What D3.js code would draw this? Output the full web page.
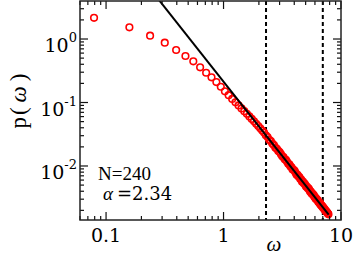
<!DOCTYPE html>
<html>
<head>
<meta charset="utf-8">
<script src="https://cdn.jsdelivr.net/npm/d3@7"></script>
<style>
  body { margin: 0; background: #fff; }
  text { font-family: "Liberation Serif", "DejaVu Serif", serif; fill: #000; }
  .num { font-family: "DejaVu Serif", serif; font-weight: 300; }
</style>
</head>
<body>
<script>
const wid = 354, hei = 258;
const margin = {left: 80, right: 13, top: 1, bottom: 38};

// degree distribution, p(omega)
const omega = [0.079, 0.158, 0.237, 0.316, 0.395, 0.474, 0.553, 0.632, 0.711, 0.790,
  0.869, 0.948, 1.027, 1.106, 1.185, 1.264, 1.343, 1.422, 1.501, 1.580,
  1.659, 1.738, 1.817, 1.896, 1.975, 2.054, 2.133, 2.212, 2.291, 2.370,
  2.449, 2.528, 2.607, 2.686, 2.765, 2.844, 2.923, 3.002, 3.081, 3.160,
  3.239, 3.318, 3.397, 3.476, 3.555, 3.634, 3.713, 3.792, 3.871, 3.950,
  4.029, 4.108, 4.187, 4.266, 4.345, 4.424, 4.503, 4.582, 4.661, 4.740,
  4.819, 4.898, 4.977, 5.056, 5.135, 5.214, 5.293, 5.372, 5.451, 5.530,
  5.609, 5.688, 5.767, 5.846, 5.925, 6.004, 6.083, 6.162, 6.241, 6.320,
  6.399, 6.478, 6.557, 6.636, 6.715, 6.794, 6.873, 6.952, 7.031, 7.110,
  7.189, 7.268, 7.347, 7.426, 7.505, 7.584, 7.663, 7.742, 7.821];
const prob = [2.16, 1.53, 1.13, 0.875, 0.671, 0.54, 0.445, 0.358, 0.294, 0.249,
  0.210, 0.177, 0.150, 0.1303, 0.1139, 0.1007, 0.0898, 0.0808, 0.0730, 0.0663,
  0.0604, 0.0551, 0.0505, 0.0463, 0.0426, 0.0392, 0.0361, 0.0336, 0.0305, 0.0285,
  0.0259, 0.0246, 0.0225, 0.0213, 0.0194, 0.0187, 0.01726, 0.0166, 0.01533, 0.01422,
  0.01379, 0.01277, 0.01248, 0.01161, 0.01082, 0.01058, 0.00984, 0.00952, 0.00882, 0.00869,
  0.00841, 0.00782, 0.00731, 0.00723, 0.00683, 0.00671, 0.00624, 0.00610, 0.00566, 0.00567,
  0.00535, 0.00530, 0.00499, 0.00472, 0.00469, 0.00444, 0.00444, 0.00419, 0.00398, 0.00394,
  0.00369, 0.00371, 0.00352, 0.00350, 0.00328, 0.00324, 0.00306, 0.00306, 0.00293, 0.00291,
  0.00273, 0.00271, 0.00259, 0.00260, 0.00244, 0.00242, 0.00233, 0.00232, 0.00220, 0.00219,
  0.00210, 0.00208, 0.00199, 0.00197, 0.00190, 0.00188, 0.00181, 0.00178, 0.00173];

// power-law fit p = c * omega^-alpha
const alpha = 2.34, fitC = 0.213;
const fitRange = [0.25, 7.85];
const cutoffs = [2.3, 7.0];     // dashed lines
const xDomain = [0.06, 10], yDomain = [0.00141, 3.97];
const xTickVals = [0.1, 1, 10], xTickLabels = ['0.1', '1', '10'];
const yTickVals = [1, 0.1, 0.01], yTickExp = ['0', '-1', '-2'];
const noteN = 'N=240', noteAlpha = '=2.34';

const data = omega.map((w, i) => ({w: w, p: prob[i]}));

const x = d3.scaleLog().domain(xDomain).range([margin.left, wid - margin.right]);
const y = d3.scaleLog().domain(yDomain).range([hei - margin.bottom, margin.top]);

const svg = d3.select('body').append('svg')
  .attr('width', wid).attr('height', hei);

svg.append('clipPath').attr('id', 'clip')
  .append('rect')
  .attr('x', margin.left).attr('y', margin.top)
  .attr('width', wid - margin.left - margin.right)
  .attr('height', hei - margin.top - margin.bottom);

const plot = svg.append('g').attr('clip-path', 'url(#clip)');

// minor ticks for each decade
function logTicks(dom) {
  let out = [];
  let lo = Math.floor(Math.log10(dom[0])), hi = Math.ceil(Math.log10(dom[1]));
  for (let e = lo; e <= hi; e++) {
    for (let m = 1; m < 10; m++) {
      let v = m * Math.pow(10, e);
      if (v >= dom[0] && v <= dom[1]) out.push({v: v, major: m == 1});
    }
  }
  return out;
}

const x0 = margin.left, x1 = wid - margin.right;
const y0 = hei - margin.bottom, y1 = margin.top;
const tickG = svg.append('g').attr('stroke', '#111').attr('stroke-width', 1.2);

logTicks(xDomain).forEach(t => {
  let len = t.major ? 8 : 4;
  let px = x(t.v);
  tickG.append('line').attr('x1', px).attr('x2', px).attr('y1', y0).attr('y2', y0 - len);
  tickG.append('line').attr('x1', px).attr('x2', px).attr('y1', y1).attr('y2', y1 + len);
});
logTicks(yDomain).forEach(t => {
  let len = t.major ? 8 : 4;
  let py = y(t.v);
  tickG.append('line').attr('y1', py).attr('y2', py).attr('x1', x0).attr('x2', x0 + len);
  tickG.append('line').attr('y1', py).attr('y2', py).attr('x1', x1).attr('x2', x1 - len);
});

// dashed cutoffs
plot.selectAll('line.cut')
  .data(cutoffs)
  .enter()
  .append('line')
  .attr('class', 'cut')
  .attr('x1', d => x(d)).attr('x2', d => x(d))
  .attr('y1', y1).attr('y2', y0)
  .attr('stroke', '#000')
  .attr('stroke-width', 2)
  .attr('stroke-dasharray', '4,3');

// data circles
plot.selectAll('circle')
  .data(data)
  .enter()
  .append('circle')
  .attr('cx', d => x(d.w))
  .attr('cy', d => y(d.p))
  .attr('r', 3.3)
  .attr('fill', 'none')
  .attr('stroke', '#ff0000')
  .attr('stroke-width', 1.6);

// fit line
const fitPts = fitRange.map(w => ({w: w, p: fitC * Math.pow(w, -alpha)}));
plot.append('path')
  .datum(fitPts)
  .attr('d', d3.line().x(d => x(d.w)).y(d => y(d.p)))
  .attr('stroke', '#000')
  .attr('stroke-width', 2)
  .attr('fill', 'none');

// frame
svg.append('rect')
  .attr('x', x0).attr('y', y1)
  .attr('width', x1 - x0).attr('height', y0 - y1)
  .attr('fill', 'none')
  .attr('stroke', '#222')
  .attr('stroke-width', 1.5);

// tick labels
svg.selectAll('text.xt')
  .data(xTickVals)
  .enter()
  .append('text')
  .attr('class', 'xt num')
  .attr('x', d => x(d))
  .attr('y', y0 + 22)
  .attr('text-anchor', 'middle')
  .attr('font-size', 19)
  .text((d, i) => xTickLabels[i]);

const yt = svg.selectAll('text.yt')
  .data(yTickVals)
  .enter()
  .append('text')
  .attr('class', 'yt num')
  .attr('x', x0 - 3)
  .attr('y', d => y(d) + 13)
  .attr('text-anchor', 'end')
  .attr('font-size', 19);
yt.append('tspan').text('10');
yt.append('tspan')
  .attr('dy', -10)
  .attr('font-size', 13)
  .text((d, i) => yTickExp[i]);

// axis titles
svg.append('text')
  .attr('x', x(2.68))
  .attr('y', 251)
  .attr('text-anchor', 'middle')
  .attr('font-size', 21)
  .attr('font-style', 'italic')
  .text('\u03c9');

const yl = svg.append('text')
  .attr('transform', 'translate(26,101) rotate(-90)')
  .attr('text-anchor', 'middle')
  .attr('font-size', 23);
yl.append('tspan').text('p');
yl.append('tspan').attr('dx', 2).text('(');
yl.append('tspan').attr('dx', 5).attr('font-style', 'italic').text('\u03c9');
yl.append('tspan').attr('dx', 5).text(')');

// annotations
svg.append('text')
  .attr('x', 98).attr('y', 180)
  .attr('font-size', 19)
  .text(noteN);

const na = svg.append('text')
  .attr('x', 103).attr('y', 200)
  .attr('font-size', 19);
na.append('tspan').attr('font-style', 'italic').text('\u03b1');
na.append('tspan').attr('class', 'num').attr('x', 117).attr('font-size', 18).text(noteAlpha);
</script>
</body>
</html>
